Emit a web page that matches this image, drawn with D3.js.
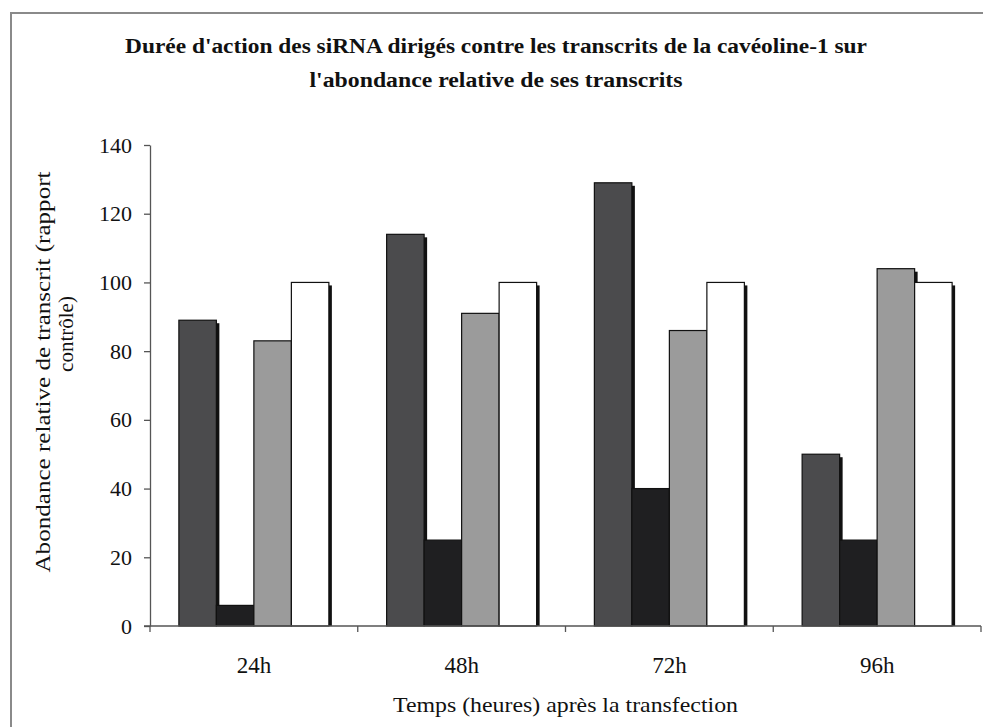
<!DOCTYPE html>
<html>
<head>
<meta charset="utf-8">
<script src="https://cdn.jsdelivr.net/npm/d3@7"></script>
<style>
  html, body { margin: 0; padding: 0; background: #ffffff; }
  svg { display: block; }
  svg text { font-family: "Times New Roman", Times, "Liberation Serif", serif; fill: #111; }
</style>
</head>
<body>
<svg id="chart" width="983" height="727"></svg>
<script>
// Time points after transfection
const categories = ["24h", "48h", "72h", "96h"];
// Four series per time point (left to right in each group)
const seriesNames = ["s1", "s2", "s3", "s4"];
const series1 = [89, 114, 129, 50];
const series2 = [6, 25, 40, 25];
const series3 = [83, 91, 86, 104];
const series4 = [100, 100, 100, 100];
const seriesFill = ["#4b4b4d", "#1f1f21", "#9b9b9b", "#ffffff"];
const yTicks = [0, 20, 40, 60, 80, 100, 120, 140];

const titleLines = [
  "Durée d'action des siRNA dirigés contre les transcrits de la cavéoline-1 sur",
  "l'abondance relative de ses transcrits"
];
const yTitleLines = ["Abondance relative de transcrit (rapport", "contrôle)"];
const xTitle = "Temps (heures) après la transfection";

const values = [series1, series2, series3, series4];

const svg = d3.select("#chart");

// Outer frame
svg.append("path")
  .attr("d", "M11,727 L11,13 L983,13")
  .attr("fill", "none")
  .attr("stroke", "#8a8a8a")
  .attr("stroke-width", 2);

const plot = { left: 150, right: 981, top: 145, bottom: 626 };

const y = d3.scaleLinear().domain([0, 140]).range([plot.bottom, plot.top]);
const x0 = d3.scaleBand().domain(categories)
  .range([plot.left, plot.right])
  .paddingInner(0.278).paddingOuter(0.139);
const x1 = d3.scaleBand().domain(seriesNames).range([0, x0.bandwidth()]);

// Bars with drop shadows, drawn series by series
const barsG = svg.append("g");
const shadowOff = 3;
seriesNames.forEach((s, si) => {
  const g = barsG.append("g");
  categories.forEach((c, ci) => {
    const v = values[si][ci];
    const bx = x0(c) + x1(s);
    const by = y(v);
    const bh = y(0) - by;
    g.append("rect")
      .attr("x", bx + shadowOff)
      .attr("y", by + shadowOff)
      .attr("width", x1.bandwidth())
      .attr("height", Math.max(0, bh - shadowOff))
      .attr("fill", "#111");
    g.append("rect")
      .attr("x", bx)
      .attr("y", by)
      .attr("width", x1.bandwidth())
      .attr("height", bh)
      .attr("fill", seriesFill[si])
      .attr("stroke", "#111")
      .attr("stroke-width", 1.2);
  });
});

// Y axis
const yAxis = svg.append("g")
  .attr("transform", `translate(${plot.left},0)`)
  .call(d3.axisLeft(y).tickValues(yTicks).tickSize(6).tickPadding(12).tickSizeOuter(0));
yAxis.attr("font-family", null);
yAxis.select(".domain").attr("stroke", "#555").attr("stroke-width", 1.3);
yAxis.selectAll(".tick line").attr("stroke", "#555").attr("stroke-width", 1.3);
yAxis.selectAll(".tick text")
  .attr("font-size", 22)
  .attr("fill", "#111");

// X axis line and boundary ticks
const xAxisG = svg.append("g");
xAxisG.append("line")
  .attr("x1", plot.left - 6).attr("x2", plot.right)
  .attr("y1", y(0)).attr("y2", y(0))
  .attr("stroke", "#555").attr("stroke-width", 1.3);
const bounds = d3.range(categories.length + 1).map(i => plot.left + i * x0.step());
xAxisG.selectAll(".bt").data(bounds).join("line")
  .attr("x1", d => d).attr("x2", d => d)
  .attr("y1", y(0)).attr("y2", y(0) + 6)
  .attr("stroke", "#555").attr("stroke-width", 1.3);
xAxisG.selectAll(".cl").data(categories).join("text")
  .attr("x", d => x0(d) + x0.bandwidth() / 2)
  .attr("y", 673)
  .attr("text-anchor", "middle")
  .attr("font-size", 23)
  .text(d => d);

// X axis title
svg.append("text")
  .attr("x", (plot.left + plot.right) / 2)
  .attr("y", 712)
  .attr("text-anchor", "middle")
  .attr("font-size", 22)
  .attr("textLength", 345)
  .attr("lengthAdjust", "spacingAndGlyphs")
  .text(xTitle);

// Y axis title (two lines, rotated)
const yTitleSpec = [
  { x: 50, cy: 372, len: 401 },
  { x: 73, cy: 334, len: null }
];
yTitleLines.forEach((t, i) => {
  const sp = yTitleSpec[i];
  const el = svg.append("text")
    .attr("transform", `translate(${sp.x},${sp.cy}) rotate(-90)`)
    .attr("text-anchor", "middle")
    .attr("font-size", 21)
    .text(t);
  if (sp.len) el.attr("textLength", sp.len).attr("lengthAdjust", "spacingAndGlyphs");
});

// Chart title
const titleSpec = [
  { y: 53, len: 742 },
  { y: 87, len: 373 }
];
titleLines.forEach((t, i) => {
  svg.append("text")
    .attr("x", 496)
    .attr("y", titleSpec[i].y)
    .attr("text-anchor", "middle")
    .attr("font-size", 20)
    .attr("font-weight", "bold")
    .attr("textLength", titleSpec[i].len)
    .attr("lengthAdjust", "spacingAndGlyphs")
    .text(t);
});
</script>
</body>
</html>
